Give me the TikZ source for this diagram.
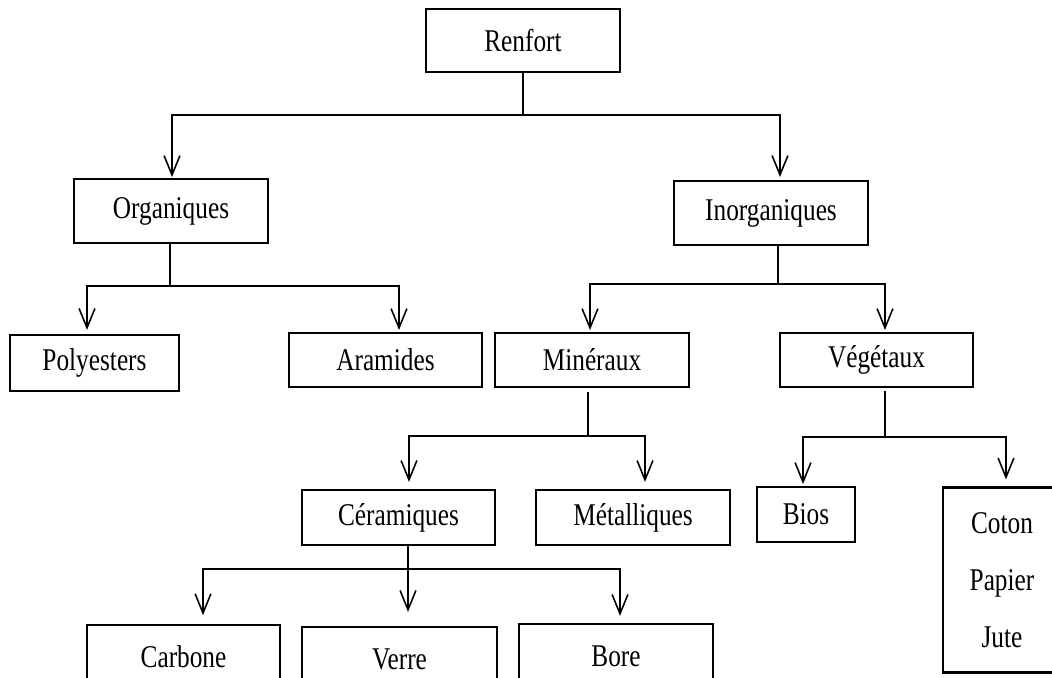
\documentclass[tikz,border=0pt]{standalone}
\usepackage{fontspec}
\setmainfont{Liberation Serif}[FakeStretch=0.8]
\usetikzlibrary{arrows.meta,positioning,calc}

\begin{document}
\begin{tikzpicture}[x=0.02cm,y=-0.02cm,font=\fontsize{18}{21}\selectfont,
  >={Straight Barb[length=11pt,width=9pt]},
  box/.style={draw,line width=1.2pt,minimum width=3.86cm,minimum height=1.1cm,inner sep=2pt},
  link/.style={->,line width=0.9pt}]
  \useasboundingbox (0,0) rectangle (1052,677);
  \clip (0,0) rectangle (1052,677);
  % boxes
  \node[box,minimum width=3.88cm,minimum height=1.26cm] (renfort) at (523,40.5) {Renfort};
  \node[box,minimum width=3.88cm,minimum height=1.28cm] (organ) at (171,211) {Organiques};
  \node[box,minimum width=3.88cm,minimum height=1.28cm] (inorg) at (771,213) {Inorganiques};
  \node[box,minimum width=3.38cm,minimum height=1.12cm] (poly) at (94.5,363) {Polyesters};
  \node[box,minimum height=1.08cm] (aram) at (385.5,360) {Aramides};
  \node[box,minimum width=3.88cm,minimum height=1.08cm] (miner) at (592,360) {Minéraux};
  \node[box,minimum height=1.08cm] (veget) at (876.5,360) {Végétaux};
  \node[box] (ceram) at (398.5,517.5) {Céramiques};
  \node[box,minimum width=3.88cm] (metal) at (633,517.5) {Métalliques};
  \node[box,minimum width=1.96cm] (bios) at (806,514.5) {Bios};
  \node[box,minimum width=2.36cm,minimum height=3.7cm,align=center,
    font=\fontsize{18}{32.3}\selectfont] (coton) at (1002,580) {Coton\\Papier\\Jute};
  \node[box,minimum height=1.28cm] (carbone) at (183.5,657) {Carbone};
  \node[box,minimum width=3.9cm,minimum height=1.28cm] (verre) at (399.5,659) {Verre};
  \node[box,minimum width=3.88cm,minimum height=1.28cm] (bore) at (616,656) {Bore};
  % connectors
  \coordinate (b1) at ($(renfort.south)+(0,42)$);
  \draw[link,shorten >=0.5pt] (renfort.south) -- (b1) -| ($(organ.north)+(1,0)$);
  \draw[link,shorten >=1.7pt] (b1) -| ($(inorg.north)+(9,0)$);
  \coordinate (b2) at ($(organ.south)+(-1,42)$);
  \draw[link,shorten >=2.3pt] ($(organ.south)+(-1,0)$) -- (b2) -| ($(poly.north)+(-7.5,0)$);
  \draw[link,shorten >=1.1pt] (b2) -| ($(aram.north)+(13.5,0)$);
  \coordinate (b3) at ($(inorg.south)+(7,38)$);
  \draw[link,shorten >=1.1pt] ($(inorg.south)+(7,0)$) -- (b3) -| ($(miner.north)+(-2,0)$);
  \draw[link,shorten >=1.1pt] (b3) -| ($(veget.north)+(8.5,0)$);
  \coordinate (b4) at ($(miner.south)+(-4,48)$);
  \draw[link,shorten >=4pt] ($(miner.south)+(-4,4)$) -- (b4) -| ($(ceram.north)+(10.5,0)$);
  \draw[link,shorten >=4pt] (b4) -| ($(metal.north)+(12,0)$);
  \coordinate (b5) at ($(veget.south)+(8.5,49)$);
  \draw[link,shorten >=1.1pt] ($(veget.south)+(8.5,3)$) -- (b5) -| ($(bios.north)+(-3,0)$);
  \draw[link,shorten >=4pt] (b5) -| ($(coton.north)+(4,0)$);
  \coordinate (b6) at ($(ceram.south)+(9.5,23)$);
  \draw[link,shorten >=8pt] ($(ceram.south)+(9.5,0)$) -- ($(verre.north)+(8.5,0)$);
  \draw[link,shorten >=5pt] (b6) -| ($(carbone.north)+(19.5,0)$);
  \draw[link,shorten >=4pt] (b6) -| ($(bore.north)+(4,0)$);
\end{tikzpicture}
\end{document}
